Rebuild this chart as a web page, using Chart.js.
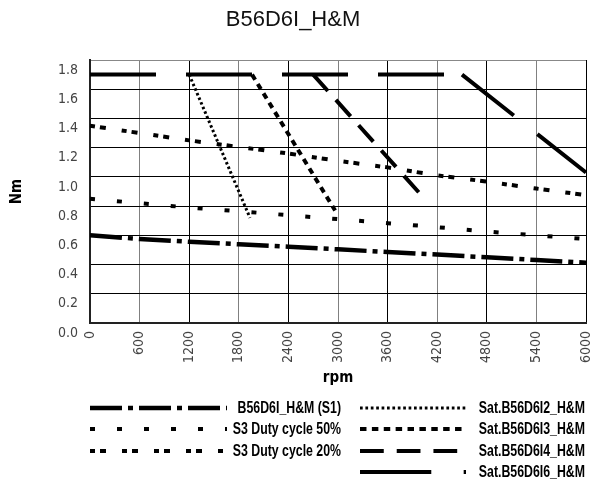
<!DOCTYPE html>
<html>
<head>
<meta charset="utf-8">
<script src="https://cdn.jsdelivr.net/npm/chart.js@4.4.1/dist/chart.umd.min.js"></script>
<style>
    body { margin: 0; background: #ffffff; }
    #wrap { width: 596px; height: 494px; }
</style>
</head>
<body>
<div id="wrap"><canvas id="myChart" width="596" height="494"></canvas></div>
<script>
// rpm grid used by the S1 / S3 curves
const rpmCurve = [0, 600, 1200, 1800, 2400, 3000, 3600, 4200, 4800, 5400, 6000];
const torqueS1 = [0.60, 0.575, 0.556, 0.539, 0.522, 0.504, 0.486, 0.468, 0.450, 0.431, 0.413];
const torqueS3_50 = [0.85, 0.82, 0.79, 0.765, 0.738, 0.711, 0.683, 0.656, 0.626, 0.600, 0.575];
const torqueS3_20 = [1.35, 1.30, 1.25, 1.205, 1.16, 1.11, 1.065, 1.01, 0.968, 0.92, 0.875];

// saturation curves
const rpmSatI2 = [1200, 1935];
const torqueSatI2 = [1.70, 0.72];
const rpmSatI3 = [1960, 2965];
const torqueSatI3 = [1.70, 0.77];
const rpmSatI4 = [2700, 4040];
const torqueSatI4 = [1.70, 0.855];
const rpmSatI6 = [0, 4500, 6000];
const torqueSatI6 = [1.70, 1.70, 1.03];

const xTicks = [0, 600, 1200, 1800, 2400, 3000, 3600, 4200, 4800, 5400, 6000];

const narrow = '"DejaVu Sans Condensed", "Liberation Sans Narrow", "Liberation Sans", sans-serif';

function pts(xs, ys) {
    return xs.map(function (x, i) { return { x: x, y: ys[i] }; });
}

function lineSet(label, data, width, dash, restartDash) {
    const set = {
        label: label,
        data: data,
        borderColor: '#000000',
        backgroundColor: '#000000',
        borderWidth: width,
        borderDash: dash,
        pointRadius: 0,
        pointHoverRadius: 0,
        tension: 0,
        fill: false
    };
    if (restartDash) {
        // start the dash pattern again at the corner, like the original plot
        set.segment = {
            borderDashOffset: function (ctx) { return ctx.p0DataIndex * 0.0001; }
        };
    }
    return set;
}

// legend drawn under the chart, two columns
const legendPlugin = {
    id: 'bottomLegend',
    afterDraw: function (chart) {
        const ctx = chart.ctx;
        const ds = chart.data.datasets;
        const rowY = [408, 429, 451, 472];
        const cols = [
            { x: 90, w: 137, right: 341, dashScale: 1, items: [0, 1, 2] },
            { x: 360, w: 106, right: 585, dashScale: 1.08, items: [3, 4, 5, 6] }
        ];
        ctx.save();
        cols.forEach(function (col) {
            col.items.forEach(function (di, r) {
                const d = ds[di];
                ctx.strokeStyle = d.borderColor;
                ctx.lineWidth = d.borderWidth;
                ctx.lineCap = 'butt';
                ctx.setLineDash((d.borderDash || []).map(function (v) { return v * col.dashScale; }));
                ctx.beginPath();
                ctx.moveTo(col.x, rowY[r]);
                ctx.lineTo(col.x + col.w, rowY[r]);
                ctx.stroke();
                ctx.setLineDash([]);
                // condensed bold text
                ctx.save();
                ctx.translate(col.right, rowY[r] + 1);
                ctx.scale(0.77, 1);
                ctx.fillStyle = '#000000';
                ctx.font = 'bold 16px "Liberation Sans", Arial, sans-serif';
                ctx.textAlign = 'right';
                ctx.textBaseline = 'middle';
                ctx.fillText(d.label, 0, 0);
                ctx.restore();
            });
        });
        ctx.restore();
    }
};

const ctx = document.getElementById('myChart').getContext('2d');
const myChart = new Chart(ctx, {
    type: 'line',
    data: {
        datasets: [
            lineSet('B56D6I_H&M (S1)', pts(rpmCurve, torqueS1), 4.5, [32, 6, 5, 6], false),
            lineSet('S3 Duty cycle 50%', pts(rpmCurve, torqueS3_50), 4, [5, 22], false),
            lineSet('S3 Duty cycle 20%', pts(rpmCurve, torqueS3_20), 4, [5, 5, 6, 16], false),
            lineSet('Sat.B56D6I2_H&M', pts(rpmSatI2, torqueSatI2), 3, [2.5, 2.5], true),
            lineSet('Sat.B56D6I3_H&M', pts(rpmSatI3, torqueSatI3), 4, [6, 5], true),
            lineSet('Sat.B56D6I4_H&M', pts(rpmSatI4, torqueSatI4), 4, [22, 12], true),
            lineSet('Sat.B56D6I6_H&M', pts(rpmSatI6, torqueSatI6), 4, [66, 30], true)
        ]
    },
    options: {
        responsive: false,
        animation: false,
        layout: {
            padding: { left: 0, right: 10, top: 0, bottom: 104 }
        },
        plugins: {
            legend: { display: false },
            tooltip: { enabled: false },
            title: {
                display: true,
                text: 'B56D6I_H&M',
                color: '#111111',
                font: { family: '"Liberation Sans", Arial, sans-serif', size: 22, weight: 'normal' },
                padding: { top: 7, bottom: 26.6 }
            }
        },
        scales: {
            x: {
                type: 'linear',
                min: 0,
                max: 6000,
                afterBuildTicks: function (scale) {
                    scale.ticks = xTicks.map(function (v) { return { value: v }; });
                },
                afterFit: function (scale) {
                    scale.height = 67;
                    scale.paddingLeft = 0;
                    scale.paddingRight = 0;
                },
                border: { color: '#222222', width: 2 },
                grid: {
                    drawTicks: false,
                    lineWidth: 1,
                    color: function (context) {
                        if (context.tick && context.tick.value % 1200 == 600) {
                            return '#808080';
                        }
                        return '#000000';
                    }
                },
                ticks: {
                    autoSkip: false,
                    minRotation: 90,
                    maxRotation: 90,
                    padding: 8,
                    color: '#444444',
                    font: { family: narrow, size: 14 },
                    callback: function (value) { return String(value); }
                },
                title: {
                    display: true,
                    text: 'rpm',
                    color: '#000000',
                    font: { family: narrow, size: 15, weight: 'bold' },
                    padding: { top: 0, bottom: 3 }
                }
            },
            y: {
                min: 0,
                max: 1.8,
                afterFit: function (scale) {
                    scale.width = 90;
                    scale.paddingTop = 0;
                    scale.paddingBottom = 0;
                },
                border: { color: '#222222', width: 2 },
                grid: {
                    drawTicks: false,
                    lineWidth: 1,
                    color: function (context) {
                        if (context.tick && Math.abs(context.tick.value - 1.8) < 1e-6) {
                            return '#888888';
                        }
                        return '#000000';
                    }
                },
                ticks: {
                    stepSize: 0.2,
                    padding: 12,
                    labelOffset: 10,
                    color: '#444444',
                    font: { family: narrow, size: 14 },
                    callback: function (value) { return value.toFixed(1); }
                },
                title: {
                    display: true,
                    text: 'Nm',
                    color: '#000000',
                    font: { family: narrow, size: 15, weight: 'bold' },
                    padding: { top: 8, bottom: 0 }
                }
            }
        }
    },
    plugins: [legendPlugin]
});
</script>
</body>
</html>
